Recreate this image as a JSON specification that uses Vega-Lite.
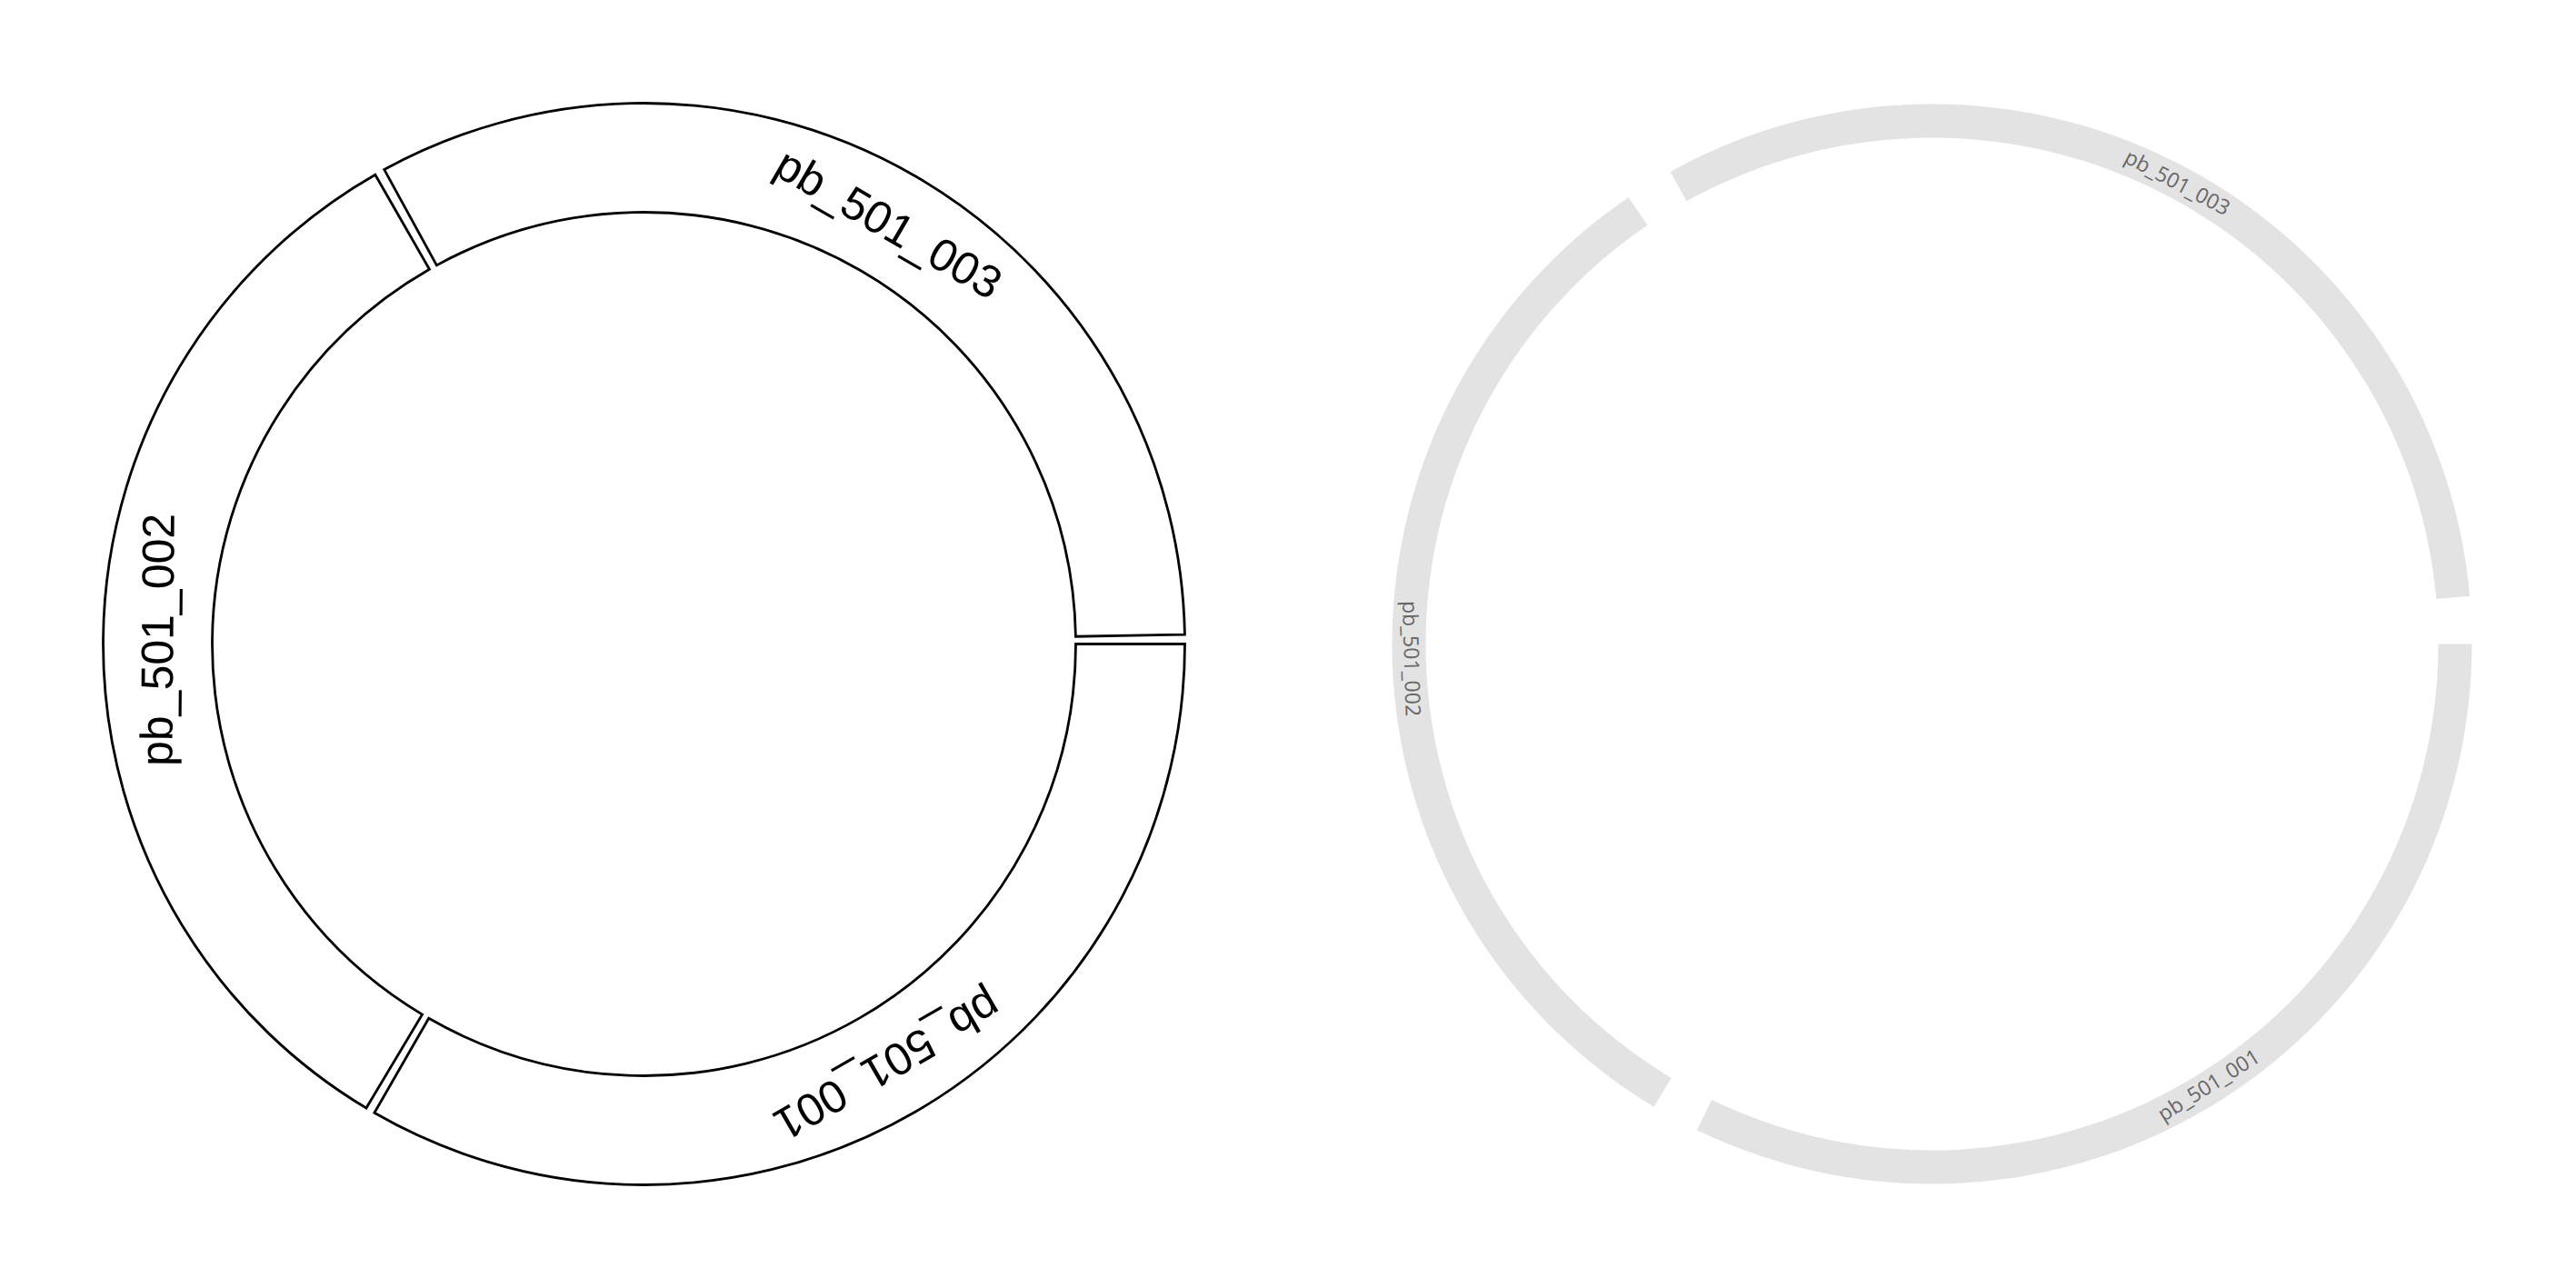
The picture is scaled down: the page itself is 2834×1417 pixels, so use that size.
{
  "$schema": "https://vega.github.io/schema/vega-lite/v6.json",
  "background": "white",
  "padding": 0,
  "spacing": 0,
  "config": {"view": {"stroke": null}, "concat": {"spacing": 0}},
  "datasets": {
    "outlined": [
      {"sector": "pb_501_001", "start": 90.0, "end": 209.9, "mid": 150.0},
      {"sector": "pb_501_002", "start": 210.9, "end": 330.2, "mid": 270.5},
      {"sector": "pb_501_003", "start": 331.3, "end": 449.0, "mid": 30.2}
    ],
    "filled": [
      {"sector": "pb_501_001", "start": 90.0, "end": 205.8, "mid": 147.9},
      {"sector": "pb_501_002", "start": 211.0, "end": 325.8, "mid": 268.4},
      {"sector": "pb_501_003", "start": 331.0, "end": 444.9, "mid": 28.0}
    ]
  },
  "hconcat": [
    {
      "width": 1417,
      "height": 1417,
      "data": {"name": "outlined"},
      "layer": [
        {
          "mark": {"type": "arc", "radius": 595, "radius2": 475, "fill": "white", "stroke": "black", "strokeWidth": 2.8},
          "encoding": {
            "theta": {"field": "start", "type": "quantitative", "stack": null, "scale": {"domain": [0, 360], "nice": false, "zero": false}},
            "theta2": {"field": "end"}
          }
        },
        {
          "mark": {"type": "text", "radius": 533, "font": "Liberation Sans", "fontSize": 50, "align": "center", "baseline": "middle", "color": "black"},
          "encoding": {
            "theta": {"field": "mid", "type": "quantitative"},
            "angle": {"field": "mid", "type": "quantitative", "scale": {"domain": [0, 360], "range": [0, 360], "nice": false, "zero": false}},
            "text": {"field": "sector"}
          }
        }
      ]
    },
    {
      "width": 1417,
      "height": 1417,
      "data": {"name": "filled"},
      "resolve": {"scale": {"angle": "independent"}},
      "layer": [
        {
          "mark": {"type": "arc", "radius": 594, "radius2": 557, "fill": "#e3e3e3", "stroke": null},
          "encoding": {
            "theta": {"field": "start", "type": "quantitative", "stack": null, "scale": {"domain": [0, 360], "nice": false, "zero": false}},
            "theta2": {"field": "end"}
          }
        },
        {
          "transform": [{"filter": "datum.mid < 90 || datum.mid > 270"}],
          "mark": {"type": "text", "radius": 574, "font": "Open Sans", "fontSize": 23, "align": "center", "baseline": "middle", "color": "#666666"},
          "encoding": {
            "theta": {"field": "mid", "type": "quantitative"},
            "angle": {"field": "mid", "type": "quantitative", "scale": {"domain": [0, 360], "range": [0, 360], "nice": false, "zero": false}},
            "text": {"field": "sector"}
          }
        },
        {
          "transform": [{"filter": "datum.mid >= 90 && datum.mid <= 270"}],
          "mark": {"type": "text", "radius": 574, "font": "Open Sans", "fontSize": 23, "align": "center", "baseline": "middle", "color": "#666666"},
          "encoding": {
            "theta": {"field": "mid", "type": "quantitative"},
            "angle": {"field": "mid", "type": "quantitative", "scale": {"domain": [0, 360], "range": [-180, 180], "nice": false, "zero": false}},
            "text": {"field": "sector"}
          }
        }
      ]
    }
  ]
}
